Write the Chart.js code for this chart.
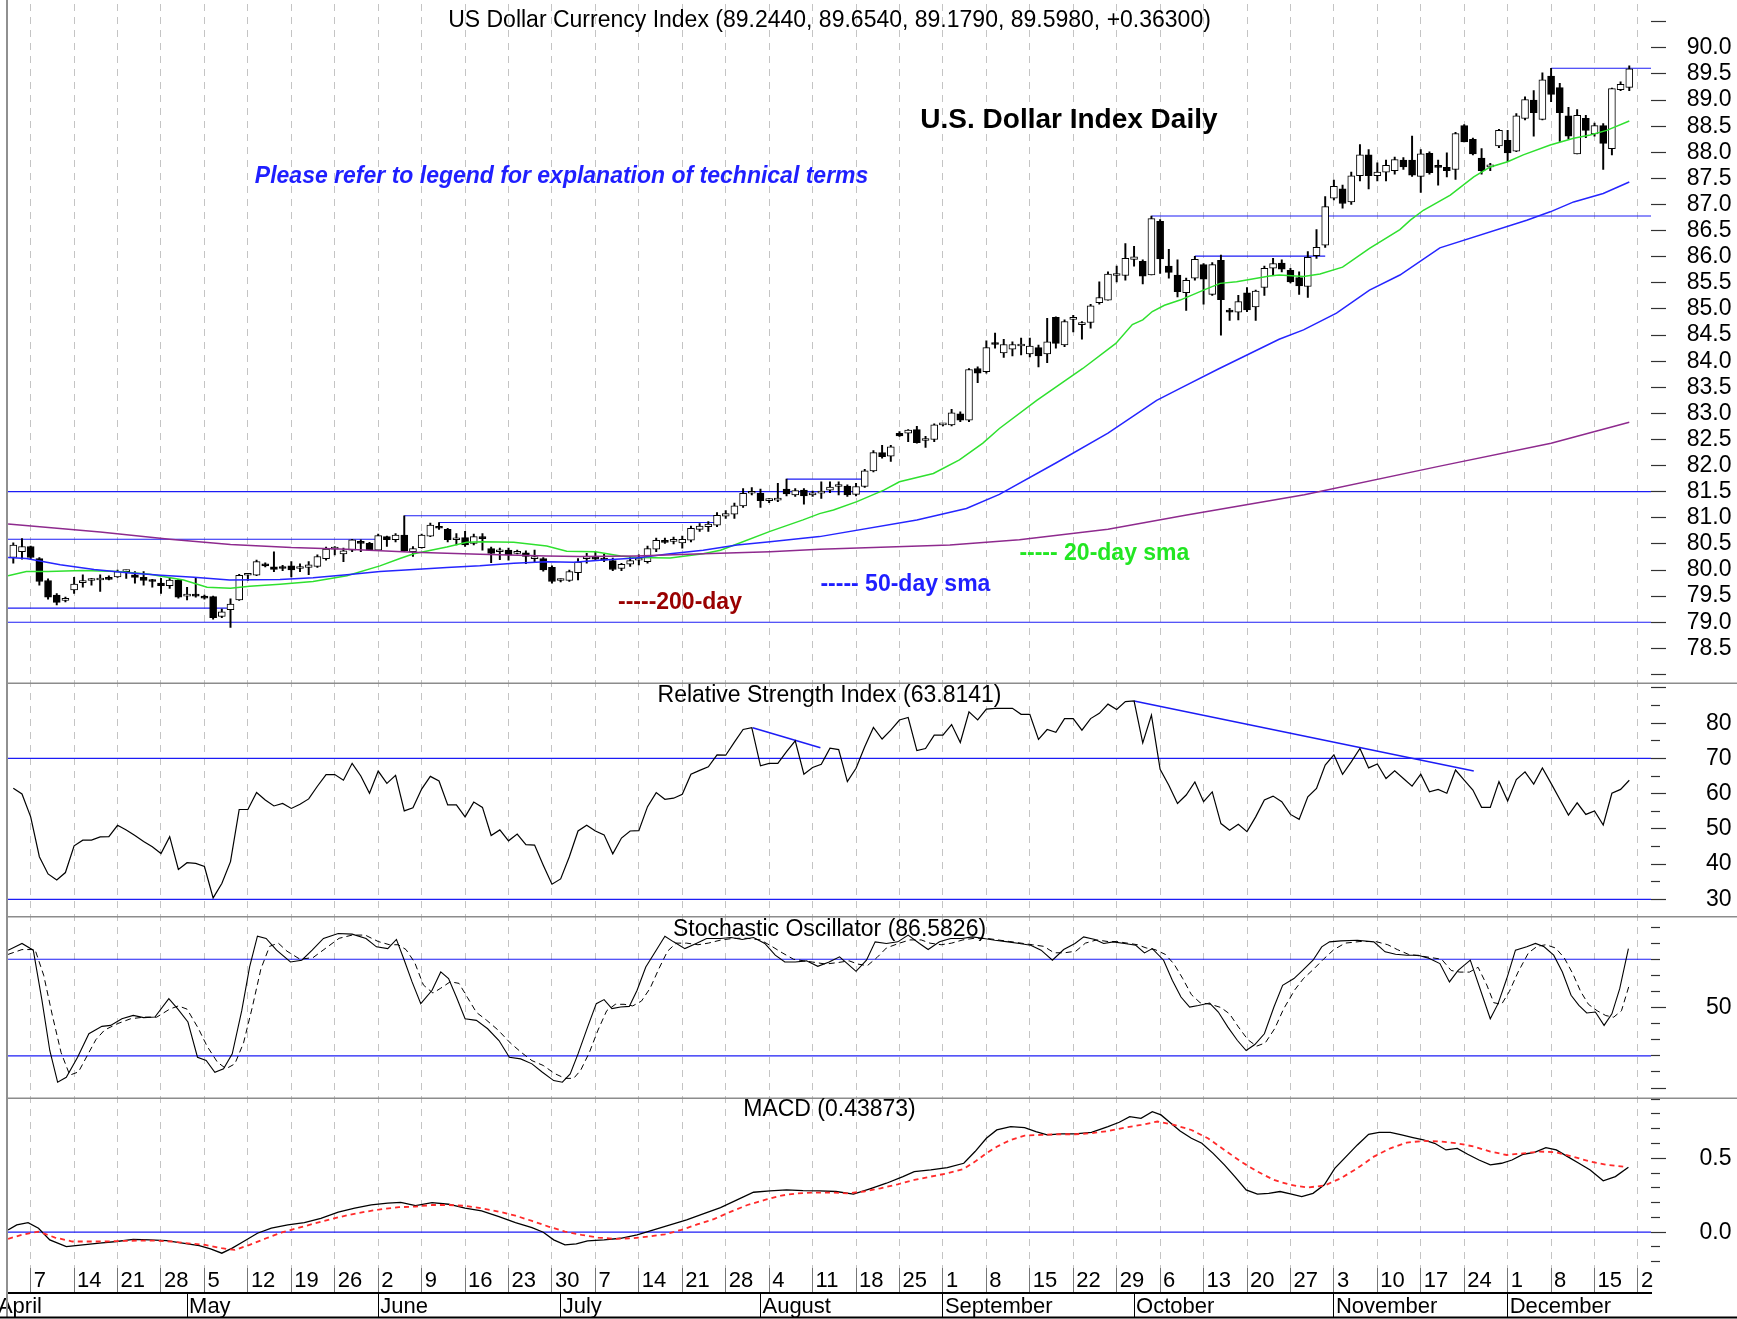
<!DOCTYPE html>
<html>
<head>
<meta charset="utf-8">
<title>U.S. Dollar Index Daily</title>
<script src="https://cdn.jsdelivr.net/npm/chart.js@4.4.1/dist/chart.umd.min.js"></script>
<style>
  html, body { margin: 0; padding: 0; background: #fff; }
  canvas { display: block; }
</style>
</head>
<body>
<canvas id="chart" width="1737" height="1319"></canvas>
<script>
// daily OHLC, trading days from Apr 3 to Dec 19 (index 0 = Apr 3)
const opens = [80.24,80.35,80.45,80.22,79.80,79.52,79.42,79.62,79.76,79.80,79.81,79.86,79.87,79.97,79.91,79.86,79.79,79.75,79.70,79.81,
  79.50,79.51,79.50,79.49,79.11,79.24,79.43,79.90,79.90,80.12,80.06,80.04,80.08,80.03,80.05,80.07,80.22,80.40,80.31,80.38,
  80.54,80.51,80.38,80.64,80.58,80.67,80.35,80.43,80.65,80.82,80.78,80.58,80.62,80.51,80.61,80.41,80.35,80.38,80.32,80.33,
  80.22,80.22,80.05,79.80,79.80,79.95,80.22,80.25,80.23,80.18,80.03,80.11,80.19,80.16,80.40,80.54,80.55,80.52,80.57,80.78,
  80.83,80.86,81.03,81.07,81.23,81.47,81.47,81.33,81.34,81.55,81.44,81.53,81.44,81.47,81.53,81.60,81.61,81.45,81.60,81.90,
  82.25,82.18,82.62,82.62,82.69,82.48,82.50,82.78,82.78,82.99,82.87,83.86,83.80,84.33,84.16,84.23,84.29,84.14,84.26,84.14,
  84.84,84.31,84.80,84.70,84.74,85.12,85.17,85.64,85.64,85.95,85.91,85.65,86.68,85.82,85.65,85.31,85.59,85.85,85.28,85.93,
  84.98,84.94,85.31,85.04,85.41,85.78,85.88,85.74,85.60,85.43,86.02,86.22,87.12,87.30,87.05,87.55,87.95,87.55,87.62,87.65,
  87.85,87.85,87.54,87.98,87.72,87.71,87.67,88.51,88.25,87.89,87.72,88.12,88.23,88.02,88.65,89.00,88.63,89.46,89.24,88.70,
  87.97,88.65,88.35,88.51,88.07,89.20,89.244];
const highs = [80.52,80.60,80.46,80.24,79.83,79.55,79.48,79.86,79.91,79.84,79.91,79.89,80.00,80.00,79.97,79.97,79.82,79.84,79.86,79.82,
  79.67,79.86,79.52,79.50,79.25,79.45,79.92,79.92,80.19,80.14,80.35,80.09,80.16,80.12,80.16,80.29,80.44,80.45,80.42,80.59,
  80.58,80.53,80.69,80.65,80.70,81.04,80.45,80.69,80.90,80.91,80.80,80.70,80.74,80.69,80.70,80.44,80.42,80.42,80.38,80.37,
  80.38,80.24,80.08,79.83,80.00,80.22,80.32,80.35,80.30,80.23,80.13,80.25,80.29,80.46,80.61,80.61,80.63,80.65,80.84,80.89,
  80.93,81.10,81.14,81.28,81.56,81.58,81.55,81.37,81.66,81.74,81.56,81.56,81.51,81.69,81.69,81.69,81.63,81.66,81.93,82.29,
  82.39,82.39,82.65,82.69,82.75,82.56,82.80,82.81,83.08,83.03,83.86,83.89,84.39,84.54,84.42,84.37,84.44,84.44,84.31,84.82,
  84.85,84.79,84.88,84.76,85.09,85.52,85.71,85.82,86.25,86.20,85.94,86.78,86.71,86.14,85.94,85.59,86.01,85.87,85.89,86.03,
  85.01,85.26,85.41,85.36,85.82,85.97,85.94,85.78,85.71,86.10,86.52,87.15,87.47,87.37,87.62,88.15,88.05,87.80,87.85,87.91,
  87.90,88.31,88.05,88.01,87.85,87.99,88.38,88.53,88.27,88.07,87.79,88.44,88.42,88.74,89.06,89.18,89.52,89.61,89.32,88.86,
  88.82,88.71,88.56,88.55,89.23,89.35,89.654];
const lows = [80.13,80.21,80.22,79.71,79.44,79.33,79.39,79.55,79.67,79.71,79.59,79.81,79.86,79.84,79.75,79.71,79.67,79.55,79.65,79.46,
  79.43,79.48,79.44,79.06,79.09,78.90,79.42,79.80,79.89,80.06,79.97,79.99,79.87,79.97,79.91,80.05,80.19,80.29,80.16,80.35,
  80.35,80.37,80.37,80.45,80.54,80.35,80.26,80.42,80.64,80.78,80.54,80.48,80.45,80.48,80.38,80.14,80.20,80.19,80.31,80.12,
  80.16,79.98,79.75,79.77,79.78,79.81,80.13,80.19,80.16,79.99,79.99,80.07,80.10,80.13,80.35,80.51,80.50,80.42,80.54,80.74,
  80.74,80.83,80.99,80.99,81.20,81.44,81.20,81.29,81.31,81.42,81.41,81.26,81.41,81.37,81.48,81.44,81.41,81.42,81.58,81.88,
  82.14,82.08,82.56,82.46,82.43,82.35,82.46,82.76,82.76,82.84,82.84,83.59,83.77,84.25,84.07,84.10,84.12,84.08,83.89,83.97,
  84.25,84.28,84.56,84.42,84.63,85.09,85.17,85.52,85.55,85.82,85.48,85.65,85.68,85.59,85.23,84.97,85.55,85.09,85.26,84.50,
  84.78,84.79,84.95,84.78,85.26,85.65,85.71,85.50,85.28,85.22,85.97,86.18,87.09,86.93,87.00,87.45,87.30,87.45,87.45,87.58,
  87.67,87.54,87.23,87.58,87.37,87.53,87.48,88.20,87.95,87.58,87.65,88.09,87.82,88.01,88.62,88.31,88.62,88.97,88.21,88.25,
  87.97,88.28,88.31,87.67,87.95,89.18,89.179];
const closes = [80.48,80.45,80.24,79.78,79.48,79.38,79.44,79.73,79.80,79.81,79.83,79.82,79.97,79.98,79.86,79.80,79.78,79.70,79.81,79.48,
  79.51,79.50,79.46,79.09,79.20,79.35,79.90,79.90,80.16,80.08,80.01,80.03,80.00,80.04,80.10,80.26,80.40,80.40,80.37,80.58,
  80.51,80.38,80.66,80.58,80.67,80.37,80.41,80.67,80.86,80.80,80.58,80.58,80.48,80.64,80.60,80.32,80.35,80.29,80.32,80.26,
  80.23,80.00,79.78,79.80,79.97,80.15,80.26,80.21,80.19,80.01,80.11,80.18,80.22,80.41,80.57,80.53,80.55,80.59,80.80,80.84,
  80.88,81.05,81.08,81.23,81.47,81.49,81.33,81.33,81.35,81.46,81.52,81.42,81.48,81.51,81.59,81.62,81.44,81.60,81.90,82.25,
  82.17,82.36,82.57,82.68,82.44,82.50,82.78,82.78,83.01,82.87,83.84,83.77,84.26,84.32,84.32,84.32,84.29,84.29,84.10,84.37,
  84.34,84.76,84.80,84.70,85.06,85.22,85.67,85.64,85.97,86.00,85.63,86.73,85.96,85.70,85.33,85.55,85.95,85.57,85.85,85.18,
  84.94,85.14,84.98,85.34,85.78,85.87,85.76,85.52,85.44,85.99,86.18,86.96,87.35,87.02,87.55,87.95,87.55,87.62,87.75,87.86,
  87.72,87.56,87.97,87.61,87.71,87.65,88.36,88.20,87.97,87.65,87.72,88.42,87.99,88.70,89.01,88.76,89.39,89.11,88.76,88.31,
  88.71,88.42,88.51,88.17,89.22,89.30,89.598];

// moving averages: [day index, value]
const sma20 = [[-0.6,79.89],[1.5,79.97],[4,79.97],[8,79.99],[12,79.97],[15.7,79.92],[19.6,79.81],[22.3,79.67],[25,79.65],[27.2,79.69],
  [30.7,79.73],[34.5,79.78],[38.4,79.89],[42.2,80.08],[44.5,80.22],[46.1,80.31],[49.9,80.44],[52.2,80.53],[54,80.54],[57.6,80.53],
  [61.4,80.46],[63.7,80.36],[67,80.35],[69.9,80.27],[71.7,80.24],[75.6,80.23],[79.4,80.31],[81.4,80.38],[83.3,80.50],[87.1,80.74],
  [90.9,80.96],[92.8,81.08],[94.4,81.15],[97.1,81.31],[100.2,81.53],[102,81.69],[105.9,81.85],[108.9,82.11],[111.6,82.43],[113.5,82.71],
  [117.8,83.25],[123.1,83.86],[126.9,84.34],[128.8,84.70],[130,84.79],[131.1,84.95],[132.5,85.07],[134.3,85.17],[137,85.36],[138.9,85.49],
  [140.8,85.52],[144.6,85.63],[145.7,85.65],[148.5,85.62],[150.4,85.67],[153,85.80],[156.1,86.16],[159.6,86.52],[160.8,86.70],[162.3,86.89],
  [165.4,87.18],[168.1,87.53],[170,87.72],[172,87.82],[173.8,87.95],[176.9,88.14],[179.6,88.27],[181.5,88.33],[183.4,88.42],[186,88.60]];
const sma50 = [[-0.6,80.24],[1.5,80.22],[5.4,80.10],[9.3,80.01],[13.1,79.95],[17,79.90],[20.8,79.86],[24.9,79.81],[30.7,79.82],[34.5,79.85],
  [38.4,79.91],[42.2,79.97],[46.1,80.01],[49.9,80.05],[53.7,80.08],[57.6,80.13],[61.4,80.16],[64.5,80.15],[67.9,80.19],[71.7,80.23],
  [75.6,80.31],[79.4,80.38],[83.3,80.48],[87.1,80.54],[90.9,80.61],[92.8,80.64],[104,80.96],[109.7,81.18],[113.5,81.45],[120,82.05],
  [126,82.62],[131.6,83.25],[134.3,83.48],[138.7,83.85],[145.7,84.42],[148.5,84.60],[152.3,84.92],[156.1,85.36],[159.6,85.65],[164.2,86.17],
  [174.2,86.70],[176.9,86.86],[179.6,87.05],[183,87.21],[186,87.43]];
const sma200 = [[-0.6,80.88],[10,80.73],[18,80.59],[25,80.49],[32,80.43],[38.4,80.40],[46.1,80.34],[53.7,80.30],[61.4,80.27],[65.2,80.26],
  [71.7,80.27],[79.4,80.31],[87.1,80.35],[92.8,80.40],[107.8,80.48],[115.8,80.58],[126,80.78],[134.9,81.05],[148.6,81.44],[164.2,81.99],
  [177,82.43],[186,82.83]];

// support / resistance lines: [from index, to index, price]
const priceLevels = [[-0.61,188.5,79.0],[-0.61,188.5,81.5],[-0.61,42,80.59],[-0.61,25,79.27],[45,81,81.04],[49,81,80.91],
  [89,98,81.74],[136,151,86.01],[131,188.5,86.78],[177,188.5,89.61]];

// RSI, one value per trading day
const rsi = [61.5,59.9,53.4,42.1,37.2,35.5,37.6,45.2,46.8,46.8,47.7,47.8,51.0,49.7,48.1,46.4,44.9,43.0,47.8,38.5,
  40.4,40.2,39.3,30.4,34.5,40.7,55.5,55.5,60.3,58.2,56.5,57.2,55.8,57.0,58.5,62.1,65.4,65.4,63.8,68.6,
  65.0,60.1,66.4,62.9,65.2,55.1,56.0,61.3,64.9,63.6,56.8,56.8,53.4,57.6,56.1,48.1,49.7,46.6,48.5,45.5,
  45.4,39.7,34.3,35.8,42.1,49.4,51.0,49.4,48.3,42.9,47.4,49.4,49.5,56.3,60.3,58.4,58.7,59.8,65.5,66.6,
  67.6,71.0,70.9,74.6,78.2,78.7,67.9,68.6,68.6,71.9,75.0,65.5,67.4,68.3,72.9,72.5,63.4,67.2,73.3,78.8,
  75.5,78.0,80.9,81.6,72.2,72.8,76.6,76.6,79.6,74.5,83.2,80.9,84.0,84.2,84.2,84.2,82.5,82.5,75.4,78.2,
  77.4,81.3,81.3,78.0,81.3,82.8,85.4,83.9,86.1,86.3,74.4,82.3,66.9,62.4,57.2,59.6,63.3,57.7,60.5,51.5,
  49.6,51.3,49.2,53.4,58.2,59.3,57.7,54.1,52.7,59.1,61.5,68.1,71.0,65.5,69.0,72.8,67.3,68.4,64.3,66.5,
  64.3,62.1,65.5,60.5,61.2,60.1,66.7,63.8,61.0,56.1,56.1,63.4,57.9,64.0,66.2,62.7,67.3,62.9,58.4,53.9,
  57.4,54.1,55.1,51.1,60.1,61.2,63.8];
const rsiTrend1 = [[85.1,78.7],[92.9,73.0]];
const rsiTrend2 = [[129,86.3],[168.1,66.4]];

// stochastic %K (solid) and %D (dashed): [day index, value]
const stochK = [[-0.6,85.6],[1.0,89.8],[2.3,85.6],[3.3,54.4],[4.2,23.3],[5.1,3.6],[6.1,6.7],[7.4,19.1],[8.7,33.7],[10.2,38.3],
  [11.2,38.9],[12.5,43.0],[13.8,45.1],[15.0,43.7],[16.3,44.1],[17.9,55.5],[18.9,49.3],[20.1,41.0],[21.2,19.1],[22.2,17.1],
  [23.2,9.8],[24.2,11.9],[25.2,21.2],[26.3,48.2],[27.2,75.2],[28.1,94.3],[29.1,92.9],[30.3,85.6],[31.9,78.3],[33.2,79.4],
  [34.4,85.6],[35.7,92.9],[37.4,96.0],[39.0,95.6],[40.6,92.9],[41.8,87.7],[43.1,86.6],[44.1,92.3],[45.0,79.4],[45.9,65.9],
  [46.9,52.4],[48.2,60.7],[49.2,72.1],[50.1,68.0],[51.0,56.5],[52.0,43.0],[53.3,42.0],[54.6,36.8],[55.9,29.5],[57.1,19.1],
  [58.4,18.1],[59.7,15.0],[60.9,9.8],[62.2,4.6],[63.2,3.6],[64.1,8.8],[65.0,21.2],[66.1,37.8],[67.1,52.4],[68.0,54.9],
  [68.9,49.3],[69.9,50.3],[70.9,50.7],[71.8,60.7],[72.8,75.2],[74.0,85.6],[75.0,94.3],[76.0,90.8],[77.3,86.6],[78.6,89.8],
  [79.8,92.9],[81.4,92.9],[82.6,93.5],[83.9,92.3],[85.2,93.5],[86.5,89.8],[87.7,82.5],[88.8,78.3],[90.0,78.3],[91.3,79.0],
  [92.6,75.6],[93.9,78.3],[95.1,81.5],[96.0,77.3],[97.0,72.5],[98.2,79.4],[99.2,90.8],[100.5,89.8],[101.8,90.8],[103.0,95.0],
  [104.3,89.8],[105.3,86.0],[106.6,90.8],[107.9,92.9],[109.2,92.9],[110.4,93.9],[111.7,92.9],[113.0,91.8],[114.5,90.8],[115.8,89.8],
  [117.1,88.7],[118.3,85.6],[119.6,79.4],[120.9,86.0],[122.2,89.8],[123.2,93.9],[124.5,92.3],[125.5,89.8],[126.6,90.8],[127.9,89.8],
  [129.2,88.7],[130.2,83.9],[131.1,86.6],[132.4,79.4],[133.4,66.9],[134.4,56.5],[135.4,50.3],[136.4,51.3],[137.7,52.8],[138.7,47.2],
  [139.8,37.8],[140.9,29.5],[141.9,23.3],[142.9,27.0],[144.0,33.7],[145.1,50.3],[146.1,63.8],[147.4,68.0],[148.4,73.1],[149.6,79.4],
  [150.6,87.7],[151.5,90.8],[152.8,91.4],[154.7,91.8],[156.6,90.8],[157.9,84.6],[159.1,83.1],[160.4,82.5],[161.7,82.5],[163.0,80.4],
  [164.2,77.3],[165.3,65.9],[166.3,73.1],[167.7,79.4],[170.0,43.0],[170.9,52.4],[171.9,68.0],[172.9,85.6],[174.2,87.7],[175.2,89.8],
  [176.2,87.7],[177.3,82.5],[178.3,72.1],[179.3,57.6],[180.2,51.3],[181.1,46.6],[182.1,47.2],[183.1,38.9],[184.0,46.1],[184.9,61.7],
  [185.9,86.6]];
const stochD = [[-0.6,83],[1,86],[2.5,86],[3.5,70],[4.5,45],[5.5,22],[6.5,8],[7.5,10],[8.5,20],[9.5,30],[10.5,36],[12,40],[13.5,43],
  [15,44],[16.5,44],[18,49],[19,51],[20,49],[21.3,37],[22.3,26],[23.5,16],[24.5,12],[25.5,15],[26.5,28],[27.5,50],[28.5,74],[29.5,88],
  [30.5,90],[31.5,85],[33,80],[34.5,81],[36,87],[37.5,93],[39,95],[40.5,95],[42,91],[43.3,89],[44.3,89],[45.2,86],[46.2,78],[47.2,64],
  [48.3,59],[49.2,62],[50.3,66],[51.3,65],[52.3,56],[53.3,47],[54.5,42],[55.8,36],[57.2,28],[58.5,22],[59.7,17],[61,14],[62.3,9],
  [63.5,6],[64.5,6],[65.3,11],[66.3,22],[67.3,36],[68.3,48],[69.3,52],[70.3,52],[71.3,51],[72.3,54],[73.3,62],[74.3,74],[75.3,85],
  [76.3,90],[77.5,90],[78.8,89],[80,90],[81.5,92],[83,93],[84.5,93],[86,92],[87.3,88],[88.5,84],[89.8,80],[91,79],[92.3,78],[93.5,77],
  [95,78],[96.2,79],[97.2,77],[98.3,76],[99.4,81],[100.5,87],[102,90],[103.2,92],[104.5,92],[105.5,90],[106.8,89],[108,90],[109.3,92],
  [110.6,93],[112,93],[113.3,92],[114.7,91],[116,90],[117.3,89],[118.6,88],[119.8,84],[121,84],[122.3,85],[123.4,90],[124.7,92],[126,91],
  [127,91],[128.2,90],[129.4,89],[130.4,87],[131.4,86],[132.6,83],[133.6,77],[134.6,68],[135.6,58],[136.6,53],[137.8,52],[139,50],
  [140,46],[141,38],[142.1,30],[143.1,26],[144.1,28],[145.2,37],[146.2,49],[147.5,61],[148.5,68],[149.7,74],[150.8,80],[152,86],
  [153.3,90],[155,91],[156.8,91],[158.2,89],[159.3,86],[160.6,83],[162,82],[163.2,81],[164.4,80],[165.5,73],[166.5,72],[167.6,72],
  [168.6,75],[169.6,64],[170.4,53],[171.3,52],[172.2,60],[173.2,72],[174.4,84],[175.4,88],[176.4,89],[177.5,87],[178.5,81],[179.5,71],
  [180.4,60],[181.3,52],[182.3,48],[183.3,45],[184.2,44],[185.1,48],[186,64]];

// MACD line and signal: [day index, value]
const macd = [[-0.6,0.016],[0.4,0.049],[1.7,0.065],[2.9,0.027],[4.2,-0.052],[6.1,-0.097],[8.0,-0.086],[9.9,-0.074],[11.9,-0.063],
  [13.8,-0.048],[15.7,-0.052],[17.6,-0.057],[19.5,-0.074],[21.4,-0.090],[22.7,-0.113],[24.0,-0.142],[25.2,-0.108],[26.5,-0.063],
  [28.1,-0.007],[29.7,0.027],[31.6,0.049],[33.5,0.065],[35.4,0.094],[37.4,0.135],[39.3,0.162],[41.2,0.184],[43.1,0.196],[44.6,0.202],
  [46.3,0.180],[48.2,0.200],[50.1,0.189],[52.0,0.162],[53.9,0.144],[55.9,0.106],[57.8,0.065],[59.7,0.031],[61.0,0.000],[62.2,-0.052],
  [63.5,-0.086],[64.8,-0.079],[66.1,-0.059],[68.0,-0.052],[69.9,-0.041],[71.8,-0.018],[73.7,0.016],[75.6,0.049],[77.5,0.083],
  [79.4,0.124],[81.4,0.166],[83.3,0.218],[85.2,0.270],[87.1,0.279],[89.0,0.286],[90.9,0.281],[92.8,0.279],[94.7,0.275],[96.7,0.257],
  [98.6,0.293],[100.5,0.331],[102.4,0.376],[103.7,0.410],[105.6,0.421],[107.5,0.437],[109.4,0.466],[110.7,0.545],[112.0,0.635],
  [113.2,0.691],[114.8,0.714],[116.4,0.707],[117.7,0.680],[119.0,0.658],[120.6,0.664],[122.2,0.664],[124.1,0.675],[126.0,0.714],
  [127.3,0.743],[128.5,0.781],[129.8,0.770],[131.1,0.815],[132.1,0.793],[133.0,0.748],[134.3,0.684],[135.6,0.635],[136.8,0.601],
  [138.1,0.533],[139.4,0.455],[140.6,0.376],[141.9,0.286],[143.2,0.257],[144.5,0.263],[145.8,0.275],[147.0,0.259],[148.3,0.241],
  [149.6,0.263],[150.9,0.320],[152.1,0.432],[153.4,0.511],[154.7,0.590],[156.0,0.662],[157.2,0.675],[158.5,0.675],[159.8,0.658],
  [161.1,0.640],[162.3,0.624],[163.6,0.601],[164.9,0.556],[166.2,0.567],[167.4,0.527],[168.7,0.488],[170.0,0.455],[171.3,0.466],
  [172.5,0.488],[173.8,0.527],[175.1,0.540],[176.4,0.572],[177.6,0.556],[178.9,0.511],[180.2,0.466],[181.5,0.421],[183.0,0.347],
  [184.4,0.376],[185.9,0.439]];
const macdSignal = [[-0.6,-0.045],[1.0,-0.018],[2.9,0.004],[4.8,-0.036],[6.8,-0.063],[8.7,-0.063],[10.6,-0.063],[12.5,-0.059],
  [14.4,-0.057],[16.3,-0.057],[18.2,-0.063],[20.1,-0.075],[22.1,-0.086],[24.0,-0.108],[25.5,-0.120],[27.2,-0.086],[29.1,-0.041],
  [31.0,0.000],[32.9,0.031],[34.8,0.061],[36.7,0.090],[38.6,0.117],[40.6,0.139],[42.5,0.157],[44.4,0.169],[46.3,0.173],[48.2,0.184],
  [50.1,0.184],[52.0,0.178],[53.9,0.162],[55.9,0.139],[57.8,0.112],[59.7,0.076],[61.6,0.038],[63.5,0.004],[65.4,-0.018],[67.3,-0.036],
  [69.2,-0.045],[71.2,-0.041],[73.1,-0.030],[75.0,-0.014],[76.9,0.016],[78.8,0.054],[80.7,0.090],[82.6,0.139],[84.5,0.184],[86.5,0.218],
  [88.4,0.248],[90.3,0.263],[92.2,0.268],[94.1,0.268],[96.0,0.263],[97.9,0.275],[99.8,0.297],[101.8,0.324],[103.7,0.353],[105.6,0.376],
  [107.5,0.398],[109.4,0.428],[110.7,0.477],[112.0,0.534],[113.2,0.578],[114.8,0.624],[116.4,0.653],[118.3,0.658],[120.3,0.662],
  [122.2,0.662],[124.1,0.669],[126.0,0.684],[127.9,0.707],[129.8,0.725],[131.7,0.748],[133.6,0.725],[135.6,0.691],[137.5,0.635],
  [139.4,0.556],[141.3,0.477],[143.2,0.410],[145.1,0.353],[147.0,0.320],[148.9,0.302],[150.9,0.315],[152.8,0.365],[154.7,0.432],
  [156.6,0.511],[158.5,0.567],[160.4,0.606],[162.3,0.617],[164.2,0.613],[166.2,0.601],[168.1,0.579],[170.0,0.545],[171.9,0.522],
  [173.8,0.533],[175.7,0.545],[177.6,0.540],[179.5,0.511],[181.5,0.477],[183.4,0.455],[185.3,0.443]];

// axis ticks
const weekIdx = [2,7,12,17,22,27,32,37,42,47,52,57,62,67,72,77,82,87,92,97,102,107,112,117,122,127,132,137,142,147,152,157,162,167,172,177,182,187];
const weekLabels = ['7','14','21','28','5','12','19','26','2','9','16','23','30','7','14','21','28','4','11','18','25',
  '1','8','15','22','29','6','13','20','27','3','10','17','24','1','8','15','2'];
const monthIdx = [-2,20,42,63,86,107,129,152,172];
const monthLabels = ['April','May','June','July','August','September','October','November','December'];
const priceTicks = [78.0,78.5,79.0,79.5,80.0,80.5,81.0,81.5,82.0,82.5,83.0,83.5,84.0,84.5,85.0,85.5,86.0,86.5,87.0,87.5,88.0,88.5,89.0,89.5,90.0,90.5];
const rsiTicks = [30,35,40,45,50,55,60,65,70,75,80,85,90];
const stochTicks = [0,10,20,30,40,50,60,70,80,90,100];
const macdTicks = [-0.2,-0.1,0,0.1,0.2,0.3,0.4,0.5,0.6,0.7,0.8,0.9];

const X_MIN = -0.61, X_MAX = 188.5;
const BLUE = '#1c1cf5';
const FONT = "'Liberation Sans', Arial, Helvetica, sans-serif";
Chart.defaults.font.family = FONT;
Chart.defaults.color = '#000';

const pts = arr => arr.map(([x, y]) => ({x, y}));
const seg = (a, b, y) => [{x: a, y}, {x: b, y}];
const line = (data, yAxisID, color, width, extra) => Object.assign({
  type: 'line', data, yAxisID, borderColor: color, borderWidth: width,
  pointRadius: 0, fill: false, tension: 0, order: 10
}, extra || {});

const datasets = [];
priceLevels.forEach(([a, b, p]) => datasets.push(line(seg(a, b, p), 'yP', BLUE, 1.2, {order: 60})));
datasets.push({
  type: 'bar', yAxisID: 'yP', order: 50, grouped: false,
  data: closes.map((c, i) => ({x: i, y: [lows[i], highs[i]]})),
  backgroundColor: '#000', borderWidth: 0, barThickness: 1.3
});
datasets.push({
  type: 'bar', yAxisID: 'yP', order: 40, grouped: false,
  data: closes.map((c, i) => ({x: i, y: [opens[i], c]})),
  backgroundColor: ctx => (ctx.raw && ctx.raw.y[1] < ctx.raw.y[0]) ? '#000' : '#fff',
  borderColor: '#000', borderWidth: 1, borderSkipped: false, barThickness: 7, minBarLength: 2
});
datasets.push(line(pts(sma200), 'yP', '#8e2a8e', 1.5, {order: 30}));
datasets.push(line(pts(sma50), 'yP', '#2525ff', 1.5, {order: 30}));
datasets.push(line(pts(sma20), 'yP', '#2fe02f', 1.5, {order: 30}));

datasets.push(line(seg(X_MIN, X_MAX, 70), 'yR', BLUE, 1.2, {order: 60}));
datasets.push(line(seg(X_MIN, X_MAX, 30), 'yR', BLUE, 1.2, {order: 60}));
datasets.push(line(rsi.map((v, i) => ({x: i, y: v})), 'yR', '#000', 1.2));
datasets.push(line(pts(rsiTrend1), 'yR', BLUE, 1.5));
datasets.push(line(pts(rsiTrend2), 'yR', BLUE, 1.5));

datasets.push(line(seg(X_MIN, X_MAX, 80), 'yS', BLUE, 1.2, {order: 60}));
datasets.push(line(seg(X_MIN, X_MAX, 20), 'yS', BLUE, 1.2, {order: 60}));
datasets.push(line(pts(stochD), 'yS', '#000', 1, {borderDash: [6, 4]}));
datasets.push(line(pts(stochK), 'yS', '#000', 1.1));

datasets.push(line(seg(X_MIN, X_MAX, 0), 'yM', BLUE, 1.2, {order: 60}));
datasets.push(line(pts(macdSignal), 'yM', '#ff2a2a', 1.8, {borderDash: [5, 4]}));
datasets.push(line(pts(macd), 'yM', '#000', 1.3));

// keep the library from reserving label overhang around the plot
const noPad = s => { s.paddingTop = 0; s.paddingBottom = 0; s.paddingLeft = 0; s.paddingRight = 0; };
const isMinor = (v, step) => Math.abs(v / step - Math.round(v / step)) > 1e-6;

function yAxis(opts) {
  return {
    type: 'linear', position: 'right', stack: 'panels', bounds: 'data',
    stackWeight: opts.weight, min: opts.min, max: opts.max,
    afterBuildTicks: s => { s.ticks = opts.ticks.map(v => ({value: v})); },
    afterFit: s => { s.width = 80.5; noPad(s); },
    ticks: {
      autoSkip: false, crossAlign: 'far', padding: 8,
      font: {size: 23}, color: '#000',
      callback: opts.label
    },
    grid: {
      drawOnChartArea: false, tickLength: 15, tickColor: '#333', tickWidth: 1.2,
      tickBorderDash: ctx => (ctx.tick && opts.minor(ctx.tick.value)) ? [9, 40] : []
    },
    border: {display: false}
  };
}

const notes = [
  {text: 'US Dollar Currency Index (89.2440, 89.6540, 89.1790, 89.5980, +0.36300)', axis: 'yP', y: 90.53, font: '23px'},
  {text: 'U.S. Dollar Index Daily', axis: 'yP', x: 104.4, y: 88.62, font: 'bold 28px'},
  {text: 'Please refer to legend for explanation of technical terms', axis: 'yP', x: 27.8, y: 87.54, font: 'italic bold 23px', color: '#1f1fff'},
  {text: '----- 20-day sma', axis: 'yP', x: 115.8, y: 80.31, font: 'bold 23px', color: '#22e622'},
  {text: '----- 50-day sma', axis: 'yP', x: 92.9, y: 79.72, font: 'bold 23px', color: '#1f1fff'},
  {text: '-----200-day', axis: 'yP', x: 69.6, y: 79.37, font: 'bold 23px', color: '#990000'},
  {text: 'Relative Strength Index (63.8141)', axis: 'yR', y: 87.7, font: '23px'},
  {text: 'Stochastic Oscillator (86.5826)', axis: 'yS', y: 98.1, font: '23px'},
  {text: 'MACD (0.43873)', axis: 'yM', y: 0.826, font: '23px'}
];

const decor = {
  id: 'decor',
  beforeDraw(chart) {
    const {ctx, width, height} = chart;
    ctx.save();
    ctx.fillStyle = '#fff';
    ctx.fillRect(0, 0, width, height);
    ctx.restore();
  },
  afterDraw(chart) {
    const {ctx, chartArea: a, scales} = chart;
    ctx.save();
    // panel separators
    ctx.strokeStyle = '#8c8c8c';
    ctx.lineWidth = 1.5;
    [scales.yR.top, scales.yS.top, scales.yM.top].forEach(y => {
      ctx.beginPath(); ctx.moveTo(a.left - 1, y); ctx.lineTo(chart.width, y); ctx.stroke();
    });
    // frame
    ctx.strokeStyle = '#909090';
    ctx.lineWidth = 2;
    ctx.beginPath(); ctx.moveTo(a.left - 1, 0); ctx.lineTo(a.left - 1, chart.height - 1); ctx.stroke();
    ctx.strokeStyle = '#000';
    ctx.beginPath(); ctx.moveTo(0, chart.height - 1.5); ctx.lineTo(chart.width, chart.height - 1.5); ctx.stroke();
    // texts
    ctx.textBaseline = 'middle';
    notes.forEach(n => {
      const y = scales[n.axis].getPixelForValue(n.y);
      ctx.font = n.font + ' ' + FONT;
      ctx.fillStyle = n.color || '#000';
      if (n.x === undefined) {
        ctx.textAlign = 'center';
        ctx.fillText(n.text, (a.left + a.right) / 2, y);
      } else {
        ctx.textAlign = 'left';
        ctx.fillText(n.text, scales.x.getPixelForValue(n.x), y);
      }
    });
    ctx.restore();
  }
};

new Chart(document.getElementById('chart'), {
  type: 'line',
  data: {datasets},
  plugins: [decor],
  options: {
    responsive: false,
    animation: false,
    devicePixelRatio: 1,
    events: [],
    layout: {padding: {left: 8, right: 5.5, top: 4, bottom: 1}},
    plugins: {legend: {display: false}, tooltip: {enabled: false}},
    scales: {
      x: {
        type: 'linear', position: 'bottom', min: X_MIN, max: X_MAX, bounds: 'data', weight: 0, offset: false,
        afterBuildTicks: s => { s.ticks = weekIdx.map(v => ({value: v})); },
        afterFit: s => { s.height = 25; noPad(s); },
        ticks: {
          autoSkip: false, maxRotation: 0, minRotation: 0, align: 'start', labelOffset: 3, padding: -25,
          font: {size: 22}, color: '#000', callback: (v, i) => weekLabels[i]
        },
        grid: {offset: false, color: '#c4c4c4', lineWidth: 1, tickLength: 25, tickColor: '#777', tickWidth: 1,
               tickBorderDash: [], borderDash: [7, 6]},
        border: {display: false, dash: [7, 6]}
      },
      xm: {
        type: 'linear', axis: 'x', position: 'bottom', min: X_MIN, max: X_MAX, bounds: 'data', weight: 1, offset: false,
        afterBuildTicks: s => { s.ticks = monthIdx.map(v => ({value: v})); },
        afterFit: s => { s.height = 25; noPad(s); },
        ticks: {
          autoSkip: false, maxRotation: 0, minRotation: 0, align: 'start', labelOffset: 2, padding: -24,
          font: {size: 22}, color: '#000', callback: (v, i) => monthLabels[i]
        },
        grid: {offset: false, drawOnChartArea: false, tickLength: 25, tickColor: '#000', tickWidth: 1},
        border: {display: true, color: '#000', width: 2}
      },
      yP: yAxis({weight: 679.4, min: 77.83, max: 90.84, ticks: priceTicks,
        label: v => (v > 78.4 && v < 90.1) ? v.toFixed(1) : '', minor: () => false}),
      yR: yAxis({weight: 233.4, min: 25.06, max: 91.3, ticks: rsiTicks,
        label: v => (v % 10 === 0 && v <= 80) ? String(v) : '', minor: v => isMinor(v, 10)}),
      yS: yAxis({weight: 181.6, min: -6.4, max: 106.4, ticks: stochTicks,
        label: v => v === 50 ? '50' : '', minor: v => v !== 50 && v !== 0}),
      yM: yAxis({weight: 169.7, min: -0.242, max: 0.905, ticks: macdTicks,
        label: v => Math.abs(v) < 1e-9 ? '0.0' : (Math.abs(v - 0.5) < 1e-9 ? '0.5' : ''), minor: v => isMinor(v, 0.5)})
    }
  }
});
</script>
</body>
</html>
